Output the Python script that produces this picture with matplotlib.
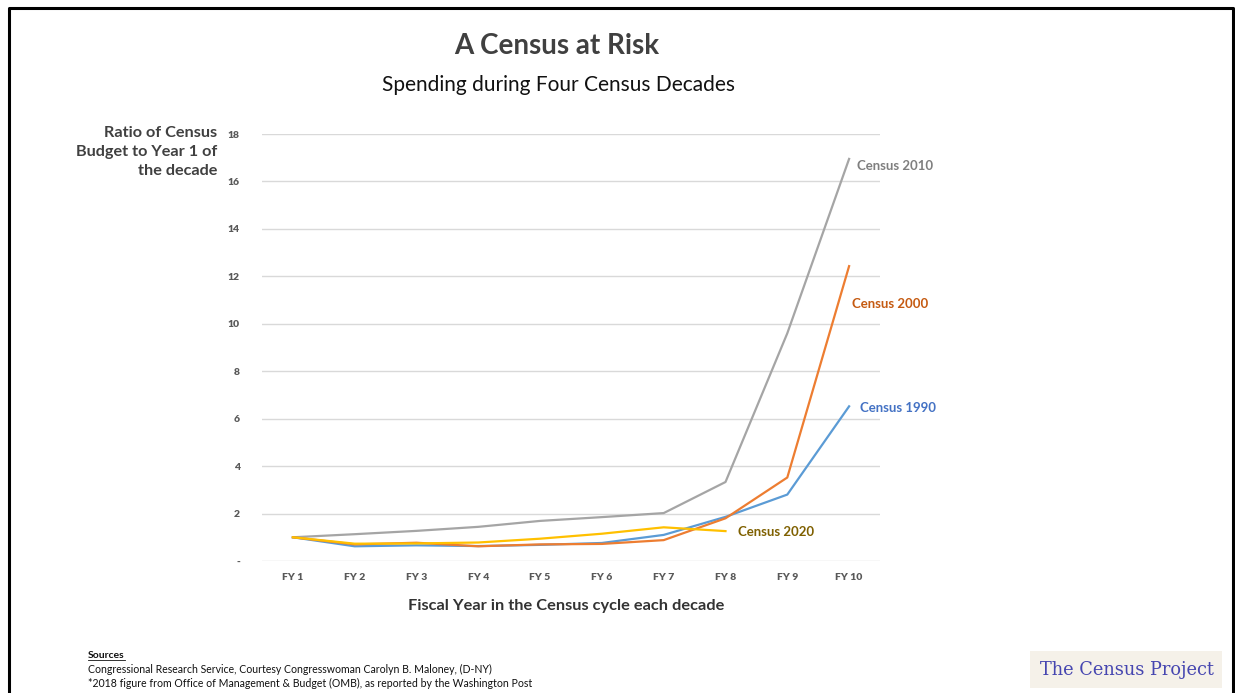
import matplotlib.pyplot as plt
from matplotlib.patches import Rectangle

years = ["FY 1", "FY 2", "FY 3", "FY 4", "FY 5", "FY 6", "FY 7", "FY 8", "FY 9", "FY 10"]
census_1990 = [1.0, 0.62, 0.66, 0.63, 0.68, 0.76, 1.1, 1.86, 2.8, 6.52]
census_2000 = [1.0, 0.70, 0.77, 0.62, 0.70, 0.72, 0.88, 1.8, 3.52, 12.43]
census_2010 = [1.0, 1.13, 1.27, 1.44, 1.69, 1.85, 2.02, 3.33, 9.6, 16.95]
census_2020 = [1.0, 0.73, 0.74, 0.78, 0.94, 1.15, 1.42, 1.26]

plt.rcParams['font.family'] = ['Lato', 'DejaVu Sans']

fig = plt.figure(figsize=(12.35, 6.93), dpi=100)
ax = fig.add_axes([262 / 1235, 1 - 561 / 693, 618 / 1235, 427 / 693])

x = list(range(1, len(years) + 1))
ax.plot(x, census_2010, color="#a5a5a5", lw=1.6)
ax.plot(x, census_1990, color="#5b9bd5", lw=1.6)
ax.plot(x, census_2000, color="#ed7d31", lw=1.6)
ax.plot(x[:len(census_2020)], census_2020, color="#ffc000", lw=1.6)

# end-of-line series labels
ax.text(10.13, 16.65, "Census 2010", color="#7f7f7f", fontsize=9.5,
        fontweight="bold", va="center")
ax.text(10.05, 10.85, "Census 2000", color="#c55a11", fontsize=9.5,
        fontweight="bold", va="center")
ax.text(10.17, 6.47, "Census 1990", color="#4472c4", fontsize=9.5,
        fontweight="bold", va="center")
ax.text(8.2, 1.23, "Census 2020", color="#7f6000", fontsize=9.5,
        fontweight="bold", va="center")

ax.set_xlim(0.5, 10.5)
ax.set_ylim(0, 18)
ax.set_yticks(range(0, 19, 2))
ax.set_yticklabels(["-"] + [str(v) for v in range(2, 19, 2)])
ax.set_xticks(x)
ax.set_xticklabels(years)
ax.tick_params(length=0, labelsize=7.5, labelcolor="#595959", pad=9)
for lab in ax.get_xticklabels() + ax.get_yticklabels():
    lab.set_fontweight("heavy")
ax.yaxis.set_tick_params(pad=16)
ax.grid(axis="y", color="#d9d9d9", lw=1)
ax.set_axisbelow(True)
for s in ax.spines.values():
    s.set_visible(False)

fig.text(557 / 1235, 1 - 46 / 693, "A Census at Risk", ha="center", va="center",
         fontsize=20, fontweight="bold", color="#404040")
fig.text(559 / 1235, 1 - 85 / 693, "Spending during Four Census Decades", ha="center",
         va="center", fontsize=15, color="#111111")
fig.text(217 / 1235, 1 - 152 / 693, "Ratio of Census\nBudget to Year 1 of\nthe decade",
         ha="right", va="center", fontsize=11.7, fontweight="bold", color="#404040",
         linespacing=1.45)
fig.text(566 / 1235, 1 - 606 / 693, "Fiscal Year in the Census cycle each decade",
         ha="center", va="center", fontsize=11.8, fontweight="bold", color="#333333")

fig.text(88 / 1235, 1 - 655 / 693, "Sources", fontsize=7.5, fontweight="bold",
         va="center", color="#111111")
fig.add_artist(plt.Line2D([88 / 1235, 125 / 1235], [1 - 660 / 693] * 2, color="#111111", lw=0.6))
fig.text(88 / 1235, 1 - 669 / 693,
         "Congressional Research Service, Courtesy Congresswoman Carolyn B. Maloney, (D-NY)",
         fontsize=7.6, va="center", color="#111111")
fig.text(88 / 1235, 1 - 683 / 693,
         "*2018 figure from Office of Management & Budget (OMB), as reported by the Washington Post",
         fontsize=7.6, va="center", color="#111111")

# logo block, bottom right
fig.add_artist(Rectangle((1030 / 1235, 1 - 688 / 693), 192 / 1235, 37 / 693,
                         transform=fig.transFigure, facecolor="#f1ece1", edgecolor="none",
                         alpha=0.7))
fig.text(1127 / 1235, 1 - 670 / 693, "The Census Project", ha="center",
         va="center", fontsize=12.8, family="DejaVu Serif", color="#4646b0")

# slide frame (open at the bottom)
fig.add_artist(plt.Line2D([9 / 1235, 9 / 1235, 1233 / 1235, 1233 / 1235],
                          [0, 1 - 8 / 693, 1 - 8 / 693, 0], color="black", lw=2.2,
                          transform=fig.transFigure))

fig.savefig("out.png", dpi=100)
